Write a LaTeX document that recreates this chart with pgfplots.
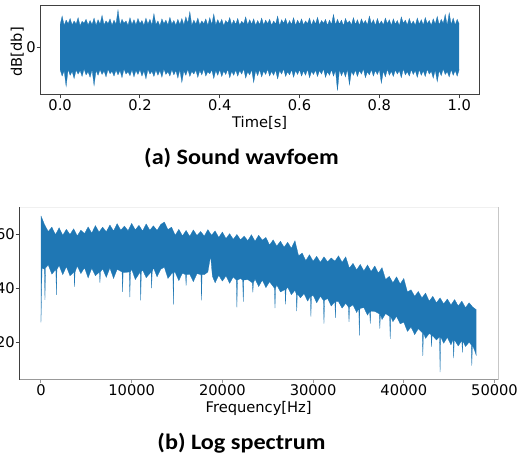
\documentclass[border=0pt]{standalone}
\usepackage{pgfplots}
\pgfplotsset{compat=1.18}
\usepgfplotslibrary{fillbetween}
\usepackage{fontspec}
\setmainfont{DejaVu Sans}
\newfontfamily\capfont{Carlito}
\definecolor{mplblue}{HTML}{1F77B4}

\begin{document}
\begin{tikzpicture}
\pgfplotsset{
  every axis/.append style={
    scale only axis, clip=false,
    tick align=outside, major tick length=2.6pt,
    tick label style={font=\fontsize{11}{13}\selectfont, inner sep=0.6pt},
    label style={font=\fontsize{11}{13}\selectfont},
    /pgf/number format/assume math mode=true,
    xtick pos=bottom, ytick pos=left,
  }
}

% (a) waveform: upper and lower envelope of the signal
\begin{axis}[
  at={(30.15pt,273.75pt)}, anchor=south west,
  width=329.2pt, height=66.75pt,
  xmin=-0.05, xmax=1.05, ymin=-1.1925, ymax=1.0325,
  xtick={0,0.2,0.4,0.6,0.8,1},
  xticklabel style={/pgf/number format/.cd,fixed,fixed zerofill,precision=1},
  ytick={0},
  axis line style={black!75, line width=0.75pt},
  tick style={black!75, line width=0.75pt},
  xlabel={Time[s]}, ylabel={dB[db]},
  xlabel style={at={(axis description cs:0.5,-0.315)},anchor=center},
  ylabel style={at={(axis description cs:-0.052,0.486)},anchor=center},
]
\addplot[mplblue, line width=0.2pt, name path=wu] coordinates {
(0,0.57)(0.005,0.78)(0.01,0.55)(0.015,0.68)(0.02,0.59)(0.025,0.72)(0.03,0.56)(0.035,0.66)(0.04,0.58)(0.045,0.74)
(0.05,0.54)(0.055,0.65)(0.06,0.60)(0.065,0.70)(0.07,0.56)(0.075,0.67)(0.08,0.57)(0.085,0.73)(0.09,0.55)(0.095,0.69)
(0.10,0.58)(0.105,0.80)(0.11,0.56)(0.115,0.66)(0.12,0.59)(0.125,0.71)(0.13,0.55)(0.135,0.68)(0.14,0.58)(0.145,0.93)
(0.15,0.56)(0.155,0.70)(0.16,0.60)(0.165,0.66)(0.17,0.55)(0.175,0.74)(0.18,0.57)(0.185,0.69)(0.19,0.56)(0.195,0.72)
(0.20,0.59)(0.205,0.67)(0.21,0.55)(0.215,0.73)(0.22,0.58)(0.225,0.70)(0.23,0.56)(0.235,0.84)(0.24,0.57)(0.245,0.66)
(0.25,0.54)(0.255,0.71)(0.26,0.59)(0.265,0.68)(0.27,0.56)(0.275,0.75)(0.28,0.58)(0.285,0.67)(0.29,0.55)(0.295,0.70)
(0.30,0.57)(0.305,0.72)(0.31,0.56)(0.315,0.76)(0.32,0.60)(0.325,0.89)(0.33,0.55)(0.335,0.68)(0.34,0.58)(0.345,0.73)
(0.35,0.56)(0.355,0.66)(0.36,0.59)(0.365,0.71)(0.37,0.55)(0.375,0.74)(0.38,0.57)(0.385,0.83)(0.39,0.56)(0.395,0.69)
(0.40,0.58)(0.405,0.70)(0.41,0.54)(0.415,0.67)(0.42,0.60)(0.425,0.74)(0.43,0.56)(0.435,0.68)(0.44,0.57)(0.445,0.72)
(0.45,0.55)(0.455,0.65)(0.46,0.59)(0.465,0.76)(0.47,0.56)(0.475,0.69)(0.48,0.58)(0.485,0.71)(0.49,0.55)(0.495,0.67)
(0.50,0.57)(0.505,0.73)(0.51,0.56)(0.515,0.68)(0.52,0.59)(0.525,0.70)(0.53,0.55)(0.535,0.66)(0.54,0.58)(0.545,0.78)
(0.55,0.54)(0.555,0.69)(0.56,0.60)(0.565,0.72)(0.57,0.56)(0.575,0.67)(0.58,0.57)(0.585,0.74)(0.59,0.55)(0.595,0.68)
(0.60,0.58)(0.605,0.71)(0.61,0.56)(0.615,0.66)(0.62,0.59)(0.625,0.73)(0.63,0.55)(0.635,0.69)(0.64,0.58)(0.645,0.75)
(0.65,0.56)(0.655,0.67)(0.66,0.60)(0.665,0.70)(0.67,0.55)(0.675,0.68)(0.68,0.57)(0.685,0.82)(0.69,0.56)(0.695,0.70)
(0.70,0.58)(0.705,0.68)(0.71,0.54)(0.715,0.72)(0.72,0.60)(0.725,0.66)(0.73,0.56)(0.735,0.74)(0.74,0.57)(0.745,0.69)
(0.75,0.55)(0.755,0.71)(0.76,0.59)(0.765,0.67)(0.77,0.56)(0.775,0.78)(0.78,0.58)(0.785,0.69)(0.79,0.55)(0.795,0.72)
(0.80,0.57)(0.805,0.66)(0.81,0.56)(0.815,0.73)(0.82,0.59)(0.825,0.69)(0.83,0.55)(0.835,0.71)(0.84,0.58)(0.845,0.67)
(0.85,0.54)(0.855,0.76)(0.86,0.60)(0.865,0.68)(0.87,0.56)(0.875,0.72)(0.88,0.57)(0.885,0.66)(0.89,0.55)(0.895,0.73)
(0.90,0.58)(0.905,0.69)(0.91,0.56)(0.915,0.74)(0.92,0.59)(0.925,0.67)(0.93,0.55)(0.935,0.71)(0.94,0.58)(0.945,0.77)
(0.95,0.56)(0.955,0.70)(0.96,0.60)(0.965,0.82)(0.97,0.55)(0.975,0.86)(0.98,0.57)(0.985,0.73)(0.99,0.56)(0.995,0.70)(1.00,0.58)
};
\addplot[mplblue, line width=0.2pt, name path=wl] coordinates {
(0,-0.56)(0.005,-0.72)(0.01,-0.59)(0.015,-0.98)(0.02,-0.55)(0.025,-0.70)(0.03,-0.60)(0.035,-0.78)(0.04,-0.57)(0.045,-0.67)
(0.05,-0.58)(0.055,-0.73)(0.06,-0.54)(0.065,-0.69)(0.07,-0.61)(0.075,-0.75)(0.08,-0.56)(0.085,-0.96)(0.09,-0.58)(0.095,-0.70)
(0.10,-0.56)(0.105,-0.68)(0.11,-0.59)(0.115,-0.74)(0.12,-0.55)(0.125,-0.66)(0.13,-0.60)(0.135,-0.72)(0.14,-0.57)(0.145,-0.69)
(0.15,-0.58)(0.155,-0.76)(0.16,-0.54)(0.165,-0.67)(0.17,-0.61)(0.175,-0.71)(0.18,-0.56)(0.185,-0.74)(0.19,-0.58)(0.195,-0.68)
(0.20,-0.56)(0.205,-0.72)(0.21,-0.59)(0.215,-0.79)(0.22,-0.55)(0.225,-0.67)(0.23,-0.60)(0.235,-0.73)(0.24,-0.57)(0.245,-0.70)
(0.25,-0.58)(0.255,-0.75)(0.26,-0.54)(0.265,-0.68)(0.27,-0.61)(0.275,-0.72)(0.28,-0.56)(0.285,-0.69)(0.29,-0.58)(0.295,-0.77)
(0.30,-0.56)(0.305,-0.88)(0.31,-0.59)(0.315,-0.70)(0.32,-0.55)(0.325,-0.73)(0.33,-0.60)(0.335,-0.67)(0.34,-0.57)(0.345,-0.75)
(0.35,-0.58)(0.355,-0.69)(0.36,-0.54)(0.365,-0.72)(0.37,-0.61)(0.375,-0.66)(0.38,-0.56)(0.385,-0.78)(0.39,-0.58)(0.395,-0.70)
(0.40,-0.56)(0.405,-0.73)(0.41,-0.59)(0.415,-0.68)(0.42,-0.55)(0.425,-0.76)(0.43,-0.60)(0.435,-0.70)(0.44,-0.57)(0.445,-0.72)
(0.45,-0.58)(0.455,-0.67)(0.46,-0.54)(0.465,-0.77)(0.47,-0.61)(0.475,-0.69)(0.48,-0.56)(0.485,-0.88)(0.49,-0.58)(0.495,-0.71)
(0.50,-0.56)(0.505,-0.74)(0.51,-0.59)(0.515,-0.68)(0.52,-0.55)(0.525,-0.72)(0.53,-0.60)(0.535,-0.70)(0.54,-0.57)(0.545,-0.79)
(0.55,-0.58)(0.555,-0.67)(0.56,-0.54)(0.565,-0.73)(0.57,-0.61)(0.575,-0.69)(0.58,-0.56)(0.585,-0.75)(0.59,-0.58)(0.595,-0.68)
(0.60,-0.56)(0.605,-0.72)(0.61,-0.59)(0.615,-0.70)(0.62,-0.55)(0.625,-0.76)(0.63,-0.60)(0.635,-0.68)(0.64,-0.57)(0.645,-0.73)
(0.65,-0.58)(0.655,-0.67)(0.66,-0.54)(0.665,-0.75)(0.67,-0.61)(0.675,-0.70)(0.68,-0.56)(0.685,-0.72)(0.69,-0.58)(0.695,-1.08)
(0.70,-0.56)(0.705,-0.71)(0.71,-0.59)(0.715,-0.74)(0.72,-0.55)(0.725,-0.94)(0.73,-0.60)(0.735,-0.70)(0.74,-0.57)(0.745,-0.73)
(0.75,-0.58)(0.755,-0.67)(0.76,-0.54)(0.765,-0.76)(0.77,-0.61)(0.775,-0.69)(0.78,-0.56)(0.785,-0.72)(0.79,-0.58)(0.795,-0.68)
(0.80,-0.56)(0.805,-0.90)(0.81,-0.59)(0.815,-0.74)(0.82,-0.55)(0.825,-0.70)(0.83,-0.60)(0.835,-0.73)(0.84,-0.57)(0.845,-0.67)
(0.85,-0.58)(0.855,-0.76)(0.86,-0.54)(0.865,-0.69)(0.87,-0.61)(0.875,-0.72)(0.88,-0.56)(0.885,-0.68)(0.89,-0.58)(0.895,-0.75)
(0.90,-0.56)(0.905,-0.70)(0.91,-0.59)(0.915,-0.73)(0.92,-0.55)(0.925,-0.67)(0.93,-0.60)(0.935,-0.77)(0.94,-0.57)(0.945,-0.86)
(0.95,-0.58)(0.955,-0.71)(0.96,-0.54)(0.965,-0.68)(0.97,-0.61)(0.975,-0.74)(0.98,-0.56)(0.985,-0.70)(0.99,-0.58)(0.995,-0.72)(1.00,-0.56)
};
\addplot[mplblue] fill between[of=wu and wl];
\end{axis}

% (b) log spectrum: upper and lower envelope
\begin{axis}[
  at={(14.4pt,60pt)}, anchor=south west,
  width=359.2pt, height=129.6pt,
  xmin=-2400, xmax=50400, ymin=6, ymax=70,
  xtick={0,10000,20000,30000,40000,50000},
  scaled x ticks=false,
  xticklabel style={/pgf/number format/.cd,fixed,1000 sep={}},
  ytick={20,40,60},
  axis line style={draw=none},
  x tick style={black!40, line width=0.75pt},
  y tick style={black!75, line width=0.75pt},
  xlabel={Frequency[Hz]},
  xlabel style={at={(axis description cs:0.5,-0.164)},anchor=center},
]
\addplot[mplblue, line width=0.2pt, name path=su] coordinates {
(0,66.8)(400,63.5)(800,61.0)(1200,62.6)(1600,59.8)(2000,62.4)(2400,59.6)(2800,61.8)(3200,59.9)(3600,62.0)
(4000,59.4)(4400,61.5)(4800,60.2)(5200,62.7)(5600,60.4)(6000,63.2)(6400,60.8)(6800,62.6)(7200,60.9)(7600,63.4)
(8000,61.2)(8400,63.9)(8800,61.5)(9200,63.0)(9600,61.3)(10000,64.0)(10400,61.6)(10800,63.3)(11200,61.2)(11600,63.8)
(12000,61.5)(12400,63.1)(12800,61.4)(13200,63.6)(13600,64.5)(14000,61.7)(14400,62.6)(14800,59.6)(15200,61.8)(15600,59.4)
(16000,61.4)(16400,59.2)(16800,61.6)(17200,59.5)(17600,61.0)(18000,59.3)(18400,61.7)(18800,59.6)(19200,61.2)(19600,58.8)
(20000,60.8)(20400,58.4)(20800,60.2)(21200,58.1)(21600,59.9)(22000,57.9)(22400,59.3)(22800,57.6)(23200,59.8)(23600,57.4)
(24000,59.6)(24400,57.8)(24800,58.8)(25200,56.0)(25600,57.9)(26000,55.6)(26400,57.4)(26800,55.2)(27200,57.0)(27600,54.8)
(28000,57.6)(28400,52.0)(28800,53.0)(29200,50.2)(29600,52.4)(30000,50.0)(30400,51.8)(30800,49.6)(31200,51.6)(31600,49.8)
(32000,51.2)(32400,50.0)(32800,52.0)(33200,49.6)(33600,51.6)(34000,47.4)(34400,49.2)(34800,46.8)(35200,48.8)(35600,46.4)
(36000,48.6)(36400,46.2)(36800,48.2)(37200,45.6)(37600,47.6)(38000,43.2)(38400,44.4)(38800,42.0)(39200,44.2)(39600,41.6)
(40000,43.6)(40400,38.6)(40800,39.4)(41200,37.0)(41600,38.8)(42000,36.4)(42400,38.2)(42800,35.2)(43200,37.0)(43600,34.6)
(44000,36.4)(44400,34.2)(44800,36.0)(45200,33.8)(45600,35.8)(46000,33.4)(46400,35.2)(46800,32.8)(47200,34.6)(47600,33.0)(48000,32.0)
};
\addplot[mplblue, line width=0.2pt, name path=sl] coordinates {
(0,27.3)(120,47.5)(380,47.0)(440,35.7)(500,47.5)(800,48.6)(1200,45.2)(1640,47.0)(1700,37.5)(1760,47.0)(2000,48.4)(2400,45.0)
(2800,48.0)(3200,44.6)(3640,46.0)(3700,40.5)(3760,46.0)(4000,48.2)(4400,45.4)(4800,47.6)(5200,43.8)(5600,47.4)(6000,44.6)
(6440,46.0)(6500,42.0)(6560,46.0)(6800,47.2)(7200,44.0)(7600,47.5)(8000,43.6)(8400,47.0)(8940,46.0)(9000,38.6)(9060,46.0)
(9200,45.8)(9740,46.0)(9800,36.7)(9860,46.0)(10000,47.0)(10400,43.2)(10940,46.0)(11000,35.5)(11060,46.0)(11200,46.8)(11600,43.9)
(12140,46.0)(12200,40.0)(12260,46.0)(12400,47.6)(12800,44.2)(13200,47.0)(13600,47.8)(14000,43.6)(14540,46.0)(14600,33.9)(14660,46.0)
(14800,45.8)(15200,42.8)(15600,45.6)(15940,45.0)(16000,41.0)(16060,45.0)(16400,45.2)(16800,42.4)(17200,45.4)(17640,45.0)(17700,35.5)(17760,45.0)
(18000,45.0)(18400,46.0)(18700,52.0)(18900,44.4)(19200,42.0)(19600,44.8)(20000,42.6)(20400,44.6)(20800,41.8)(21200,44.2)
(21540,43.0)(21600,32.9)(21660,43.0)(22000,43.6)(22240,43.0)(22300,35.0)(22360,43.0)(22800,43.2)(23300,42.0)(23360,38.5)(23420,42.0)
(23600,43.4)(24000,40.6)(24400,43.0)(24800,40.2)(25200,42.4)(25740,40.0)(25800,32.6)(25860,40.0)(26000,41.2)(26400,38.6)
(26900,39.5)(26960,34.0)(27020,39.5)(27200,40.4)(27600,37.6)(28000,39.2)(28140,38.0)(28200,31.5)(28260,38.0)(28600,36.4)(29000,38.0)
(29400,35.2)(29700,37.0)(29760,29.5)(29820,37.0)(30000,37.4)(30400,34.6)(30800,37.0)(31140,35.5)(31200,26.9)(31260,35.5)(31600,36.2)
(32000,33.4)(32400,35.0)(32460,29.0)(32520,35.0)(32800,35.0)(33200,32.6)(33600,34.4)(33900,33.0)(33960,27.5)(34020,33.0)(34400,33.8)
(34800,31.0)(35040,32.5)(35100,22.4)(35160,32.5)(35600,32.8)(36000,30.0)(36240,31.5)(36300,26.9)(36360,31.5)(36800,31.4)
(37300,30.5)(37360,25.0)(37420,30.5)(37600,28.4)(38000,30.6)(38440,29.5)(38500,21.2)(38560,29.5)(38800,27.6)(39200,29.6)(39600,26.8)
(40000,27.4)(40400,24.0)(40800,25.6)(41200,22.8)(41600,25.0)(42040,23.5)(42100,14.9)(42160,23.5)(42400,21.4)(42800,23.2)
(43000,22.8)(43060,18.3)(43120,22.6)(43600,20.8)(43940,22.0)(44000,8.9)(44060,22.0)(44400,19.6)(44800,21.8)(45200,19.0)
(45440,21.0)(45500,14.1)(45560,21.0)(46000,18.6)(46400,20.6)(46460,16.2)(46520,20.4)(46800,18.4)(47200,20.0)(47440,19.0)(47500,11.3)(47560,19.0)
(47800,17.0)(48000,15.0)
};
\addplot[mplblue] fill between[of=su and sl];
\draw[black!6, line width=0.75pt] (rel axis cs:0,1) -- (rel axis cs:1,1);
\draw[black!22, line width=0.75pt] (rel axis cs:1,0) -- (rel axis cs:1,1);
\draw[black!40, line width=0.75pt] (rel axis cs:0,0) -- (rel axis cs:1,0);
\draw[black!75, line width=0.75pt] (rel axis cs:0,0) -- (rel axis cs:0,1);
\end{axis}

\node[font=\capfont\bfseries\fontsize{16.5}{19}\selectfont, xscale=1.1, anchor=base] at (181.1pt,221.8pt) {(a) Sound wavfoem};
\node[font=\capfont\bfseries\fontsize{16.5}{19}\selectfont, xscale=1.1, anchor=base] at (181.1pt,8.0pt) {(b) Log spectrum};

\pgfresetboundingbox
\useasboundingbox (0,0) rectangle (389.25pt,345pt);
\end{tikzpicture}
\end{document}
